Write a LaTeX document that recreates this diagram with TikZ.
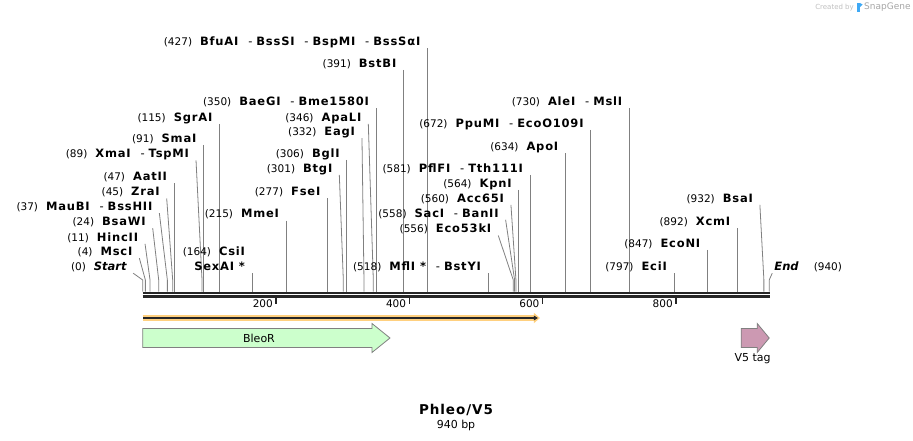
\documentclass[tikz,border=0pt]{standalone}
\usepackage{fontspec}
\setmainfont{DejaVu Sans}[BoldFeatures={LetterSpace=7}]
\usepackage{xcolor}
\usetikzlibrary{arrows.meta}

\definecolor{cutgray}{HTML}{808080}
\definecolor{axisdark}{HTML}{262626}
\definecolor{bleogreen}{HTML}{CCFFCC}
\definecolor{vfivepink}{HTML}{CC99B2}
\definecolor{orfglow}{HTML}{FFD07F}
\definecolor{sgblue}{HTML}{3FA9F5}

\newcommand{\sitepos}[1]{{\fontsize{10.5}{12}\selectfont(#1)}\hspace{8pt}}
\newcommand{\enz}[1]{\textbf{#1}}
\newcommand{\enzsep}{\hspace{9pt}-\hspace{4pt}}

\begin{document}
\begin{tikzpicture}[x=1pt,y=-1pt]
  \tikzstyle{cut}=[anchor=south east, inner xsep=6pt, inner ysep=0pt, text depth=2.5pt, font=\fontsize{11.5}{15}\selectfont]
  \tikzstyle{cut_right}=[cut, anchor=south west, inner xsep=2pt]
  \tikzstyle{cutline}=[draw=cutgray, line width=0.8pt]
  \tikzstyle{axis}=[draw=axisdark, line width=2.3pt]
  \tikzstyle{tick}=[draw=axisdark, line width=1.5pt]
  \tikzstyle{tick_text}=[anchor=east, inner sep=1pt, font=\fontsize{10.5}{12}\selectfont]
  \tikzstyle{feature}=[draw=black!50, line width=0.8pt]
  \tikzstyle{feature_text}=[font=\fontsize{11}{13}\selectfont, inner sep=1pt]

  \useasboundingbox (0,0) rectangle (913,441);

  \begin{scope}[x=0.6665pt, xshift=142.7pt]
    % sites on the sequence
    \foreach \p in {0,4,11,24,37,45,47,89,91,115,164,215,277,301,306,332,346,350,391,427,518,556,558,560,564,581,634,672,730,797,847,892,932,940}
      \coordinate (s\p) at (\p,291.5);
    \foreach \p in {0,4,11,24,37,45,89,301,332,346,556,558,560,932,940}
      \coordinate (k\p) at (\p,280);

    % sequence
    \draw [axis] (0,292.8) -- (941,292.8);
    \draw [axis] (0,296.5) -- (941,296.5);
    \foreach \t in {200,400,600,800} {
      \draw [tick] (\t,297) -- (\t,303.5);
      \node [tick_text, xshift=-2pt] (t\t) at (\t,304) {\t};
    }

    % left end
    \node [cut, xshift=-9.5pt] (Start) at (0,273.2) {\sitepos{0}\enz{\textit{Start}}};
    \draw [cutline] (Start.south east) -- (k0) -- (s0);
    \node [cut, xshift=-6pt] (MscI) at (4,258.2) {\sitepos{4}\enz{MscI}};
    \draw [cutline] (MscI.south east) -- (k4) -- (s4);
    \node [cut, xshift=-5pt] (HincII) at (11,243.8) {\sitepos{11}\enz{HincII}};
    \draw [cutline] (HincII.south east) -- (k11) -- (s11);
    \node [cut, xshift=-6pt] (BsaWI) at (24,228.2) {\sitepos{24}\enz{BsaWI}};
    \draw [cutline] (BsaWI.south east) -- (k24) -- (s24);
    \node [cut, xshift=-8pt] (MauBI) at (37,213.2) {\sitepos{37}\enz{MauBI}\enzsep\enz{BssHII}};
    \draw [cutline] (MauBI.south east) -- (k37) -- (s37);
    \node [cut, xshift=-6pt] (ZraI) at (45,198.5) {\sitepos{45}\enz{ZraI}};
    \draw [cutline] (ZraI.south east) -- (k45) -- (s45);
    \node [cut] (AatII) at (47,183.2) {\sitepos{47}\enz{AatII}};
    \draw [cutline] (AatII.south east) -- (s47);
    \node [cut, xshift=-6pt] (XmaI) at (89,160.3) {\sitepos{89}\enz{XmaI}\enzsep\enz{TspMI}};
    \draw [cutline] (XmaI.south east) -- (k89) -- (s89);
    \node [cut] (SmaI) at (91,144.8) {\sitepos{91}\enz{SmaI}};
    \draw [cutline] (SmaI.south east) -- (s91);
    \node [cut] (SgrAI) at (115,123.8) {\sitepos{115}\enz{SgrAI}};
    \draw [cutline] (SgrAI.south east) -- (s115);
    \node [cut, align=right] (CsiI) at (164,273.2) {\sitepos{164}\enz{CsiI}\\\enz{SexAI *}};
    \draw [cutline] (CsiI.south east) -- (s164);

    % middle
    \node [cut] (MmeI) at (215,220.5) {\sitepos{215}\enz{MmeI}};
    \draw [cutline] (MmeI.south east) -- (s215);
    \node [cut] (FseI) at (277,198.2) {\sitepos{277}\enz{FseI}};
    \draw [cutline] (FseI.south east) -- (s277);
    \node [cut, xshift=-4pt] (BtgI) at (301,174.8) {\sitepos{301}\enz{BtgI}};
    \draw [cutline] (BtgI.south east) -- (k301) -- (s301);
    \node [cut] (BglI) at (306,159.8) {\sitepos{306}\enz{BglI}};
    \draw [cutline] (BglI.south east) -- (s306);
    \node [cut, xshift=-2pt] (EagI) at (332,138.2) {\sitepos{332}\enz{EagI}};
    \draw [cutline] (EagI.south east) -- (k332) -- (s332);
    \node [cut, xshift=-5pt] (ApaLI) at (346,123.8) {\sitepos{346}\enz{ApaLI}};
    \draw [cutline] (ApaLI.south east) -- (k346) -- (s346);
    \node [cut] (BaeGI) at (350,108.2) {\sitepos{350}\enz{BaeGI}\enzsep\enz{Bme1580I}};
    \draw [cutline] (BaeGI.south east) -- (s350);
    \node [cut] (BstBI) at (391,69.8) {\sitepos{391}\enz{BstBI}};
    \draw [cutline] (BstBI.south east) -- (s391);
    \node [cut] (BfuAI) at (427,48.5) {\sitepos{427}\enz{BfuAI}\enzsep\enz{BssSI}\enzsep\enz{BspMI}\enzsep\enz{BssSαI}};
    \draw [cutline] (BfuAI.south east) -- (s427);
    \node [cut] (MflI) at (518,273.2) {\sitepos{518}\enz{MflI *}\enzsep\enz{BstYI}};
    \draw [cutline] (MflI.south east) -- (s518);
    \node [cut, xshift=-15pt] (Eco53kI) at (556,235.5) {\sitepos{556}\enz{Eco53kI}};
    \draw [cutline] (Eco53kI.south east) -- (k556) -- (s556);
    \node [cut, xshift=-9pt] (SacI) at (558,219.8) {\sitepos{558}\enz{SacI}\enzsep\enz{BanII}};
    \draw [cutline] (SacI.south east) -- (k558) -- (s558);
    \node [cut, xshift=-5pt] (Acc65I) at (560,204.8) {\sitepos{560}\enz{Acc65I}};
    \draw [cutline] (Acc65I.south east) -- (k560) -- (s560);
    \node [cut] (KpnI) at (564,189.8) {\sitepos{564}\enz{KpnI}};
    \draw [cutline] (KpnI.south east) -- (s564);
    \node [cut] (PflFI) at (581,174.8) {\sitepos{581}\enz{PflFI}\enzsep\enz{Tth111I}};
    \draw [cutline] (PflFI.south east) -- (s581);
    \node [cut] (ApoI) at (634,153.2) {\sitepos{634}\enz{ApoI}};
    \draw [cutline] (ApoI.south east) -- (s634);
    \node [cut] (PpuMI) at (672,129.8) {\sitepos{672}\enz{PpuMI}\enzsep\enz{EcoO109I}};
    \draw [cutline] (PpuMI.south east) -- (s672);
    \node [cut] (AleI) at (730,108.2) {\sitepos{730}\enz{AleI}\enzsep\enz{MslI}};
    \draw [cutline] (AleI.south east) -- (s730);

    % right end
    \node [cut] (EciI) at (797,273.2) {\sitepos{797}\enz{EciI}};
    \draw [cutline] (EciI.south east) -- (s797);
    \node [cut] (EcoNI) at (847,249.8) {\sitepos{847}\enz{EcoNI}};
    \draw [cutline] (EcoNI.south east) -- (s847);
    \node [cut] (XcmI) at (892,228.2) {\sitepos{892}\enz{XcmI}};
    \draw [cutline] (XcmI.south east) -- (s892);
    \node [cut, xshift=-4pt] (BsaI) at (932,204.8) {\sitepos{932}\enz{BsaI}};
    \draw [cutline] (BsaI.south east) -- (k932) -- (s932);
    \node [cut_right, xshift=3pt] (End) at (940,273.2) {\enz{\textit{End}}\hspace{15pt}{\fontsize{10.5}{12}\selectfont(940)}};
    \draw [cutline] (End.south west) -- (k940) -- (s940);

    % features
    \draw [orfglow, line width=5.5pt, -{Triangle[length=6pt,width=10pt]}] (0,318) -- (596,318);
    \draw [axisdark, line width=1.6pt, -{Triangle[length=4pt,width=4.5pt]}] (1,318) -- (593,318);

    \draw [feature, fill=bleogreen] (0,328.5) -- (344,328.5) -- (344,323.5) -- (371,338) -- (344,352.5) -- (344,347.5) -- (0,347.5) -- cycle;
    \node [feature_text] (bleoR) at (174.5,338) {BleoR};
    \draw [feature, fill=vfivepink] (898,328.5) -- (922,328.5) -- (922,323.5) -- (940,338) -- (922,352.5) -- (922,347.5) -- (898,347.5) -- cycle;
    \node [feature_text] (v5tag) at (915,359) {V5 tag};
  \end{scope}

  \node [font=\bfseries\fontsize{13.5}{16}\selectfont] (title) at (456,410) {Phleo/V5};
  \node [font=\fontsize{11}{13}\selectfont] (length) at (456,425) {940 bp};

  \node [anchor=east, text=black!25, font=\fontsize{7}{8}\selectfont, inner sep=0pt] (createdby) at (854,7.5) {Created by};
  \fill [sgblue] (857,3) rectangle (860,12);
  \fill [sgblue] (860,3) -- (862.5,4.5) -- (860,7) -- cycle;
  \node [anchor=west, text=black!35, font=\fontsize{9}{10}\selectfont, inner sep=0pt] (snapgene) at (864,7.5) {SnapGene};
\end{tikzpicture}
\end{document}
